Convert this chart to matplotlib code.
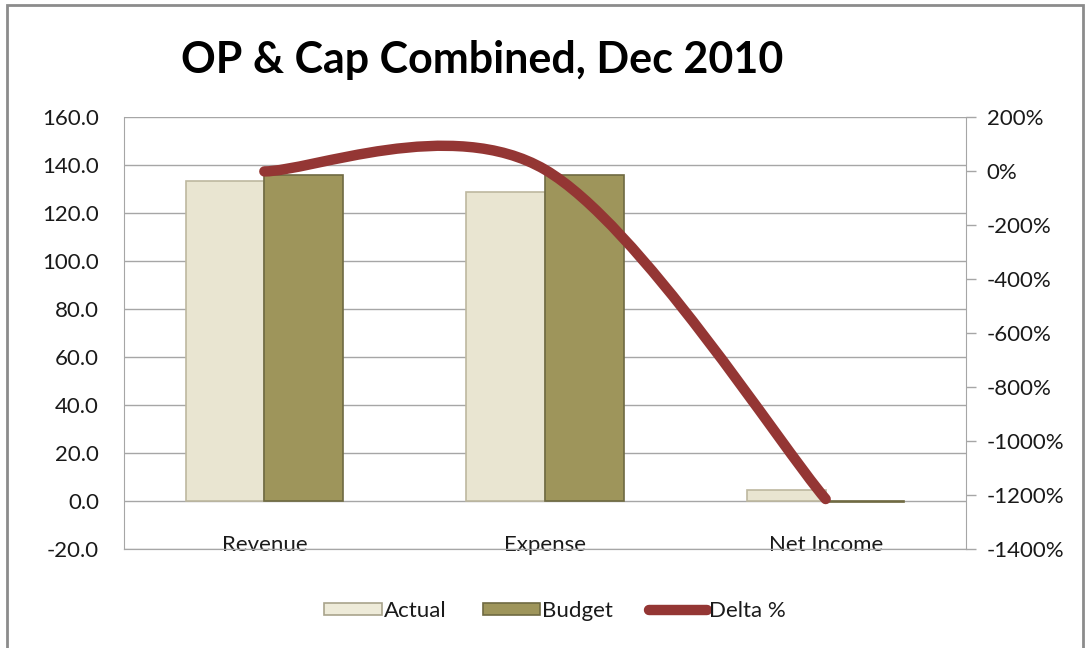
import matplotlib
matplotlib.use('Agg')
import matplotlib.pyplot as plt
from matplotlib.path import Path
from matplotlib.patches import PathPatch, Patch, Rectangle
from matplotlib.lines import Line2D

categories = ['Revenue', 'Expense', 'Net Income']
actual = [133.5, 128.8, 4.7]
budget = [135.8, 136.0, -0.6]
delta_pct = [-1.5, 5.0, -1215.0]

left_ticks = [-20, 0, 20, 40, 60, 80, 100, 120, 140, 160]
right_ticks = [-1400, -1200, -1000, -800, -600, -400, -200, 0, 200]

plt.rcParams['font.family'] = ['Lato', 'DejaVu Sans']
text_col = '#1a1a1a'
grid_col = '#a6a6a6'
red = '#943634'

fig = plt.figure(figsize=(10.88, 6.48), dpi=100)
fig.patches.append(Rectangle((7 / 1088, -0.01), 1076 / 1088, 1 - 5 / 648 + 0.01,
                             transform=fig.transFigure, fill=False,
                             edgecolor='#8c8c8c', lw=2))

ax = fig.add_axes([124 / 1088, 1 - 549 / 648, 842 / 1088, 432 / 648])
ax2 = ax.twinx()

x = list(range(len(categories)))
w = 0.28
ax.bar([i - w / 2 for i in x], actual, w, color='#e9e5d1', edgecolor='#bdb89f', lw=1.2, zorder=3)
ax.bar([i + w / 2 for i in x], budget, w, color='#9e955b', edgecolor='#6f6a42', lw=1.2, zorder=3)

ax.set_xlim(-0.5, 2.5)
ax.set_ylim(-20, 160)
ax.set_yticks(left_ticks)
ax.set_yticklabels(['{:.1f}'.format(v) for v in left_ticks])
ax.yaxis.grid(True, color=grid_col, lw=1, zorder=0)
ax.set_axisbelow(True)
ax.set_xticks(x)
ax.set_xticklabels(categories)
ax.tick_params(axis='x', length=0, pad=-10, labelsize=16, colors=text_col)
ax.tick_params(axis='y', length=0, pad=18, labelsize=16, colors=text_col)

for s in ['top']:
    ax.spines[s].set_visible(False)
    ax2.spines[s].set_visible(False)
for s in ['left', 'right', 'bottom']:
    ax.spines[s].set_color(grid_col)
    ax2.spines[s].set_color(grid_col)
ax2.spines['left'].set_visible(False)
ax.spines['right'].set_visible(False)

ax2.set_ylim(-1400, 200)
ax2.set_yticks(right_ticks)
ax2.set_yticklabels(['{:.0f}%'.format(v) for v in right_ticks])
ax2.tick_params(axis='y', length=7, width=1, color=grid_col, pad=8, labelsize=16, colors=text_col)

# smoothed line like Excel (Bezier through the points)
pts = list(zip(x, delta_pct))
verts = [pts[0]]
codes = [Path.MOVETO]
n = len(pts)
for i in range(n - 1):
    p0 = pts[i - 1] if i > 0 else pts[i]
    p1 = pts[i]
    p2 = pts[i + 1]
    p3 = pts[i + 2] if i + 2 < n else pts[i + 1]
    c1 = (p1[0] + (p2[0] - p0[0]) / 6, p1[1] + (p2[1] - p0[1]) / 6)
    c2 = (p2[0] - (p3[0] - p1[0]) / 6, p2[1] - (p3[1] - p1[1]) / 6)
    verts += [c1, c2, p2]
    codes += [Path.CURVE4] * 3
ax2.add_patch(PathPatch(Path(verts, codes), fill=False, edgecolor=red, lw=7.5,
                        capstyle='round', joinstyle='round', zorder=5))

fig.text(482 / 1088, 1 - 60 / 648, 'OP & Cap Combined, Dec 2010', ha='center', va='center',
         fontsize=31, fontweight='bold', color='black')

handles = [Patch(facecolor='#eeebd9', edgecolor='#a9a48c', lw=1.2),
           Patch(facecolor='#9e955b', edgecolor='#6f6a42', lw=1.2),
           Line2D([0], [0], color=red, lw=7.5, solid_capstyle='round')]
fig.legend(handles, ['Actual', 'Budget', 'Delta %'], loc='center', ncol=3,
           bbox_to_anchor=(555 / 1088, 1 - 611 / 648), frameon=False, fontsize=16,
           handlelength=2.6, handleheight=0.5, handletextpad=0.1, columnspacing=1.6,
           labelcolor=text_col)

fig.savefig('out.png', dpi=100)
